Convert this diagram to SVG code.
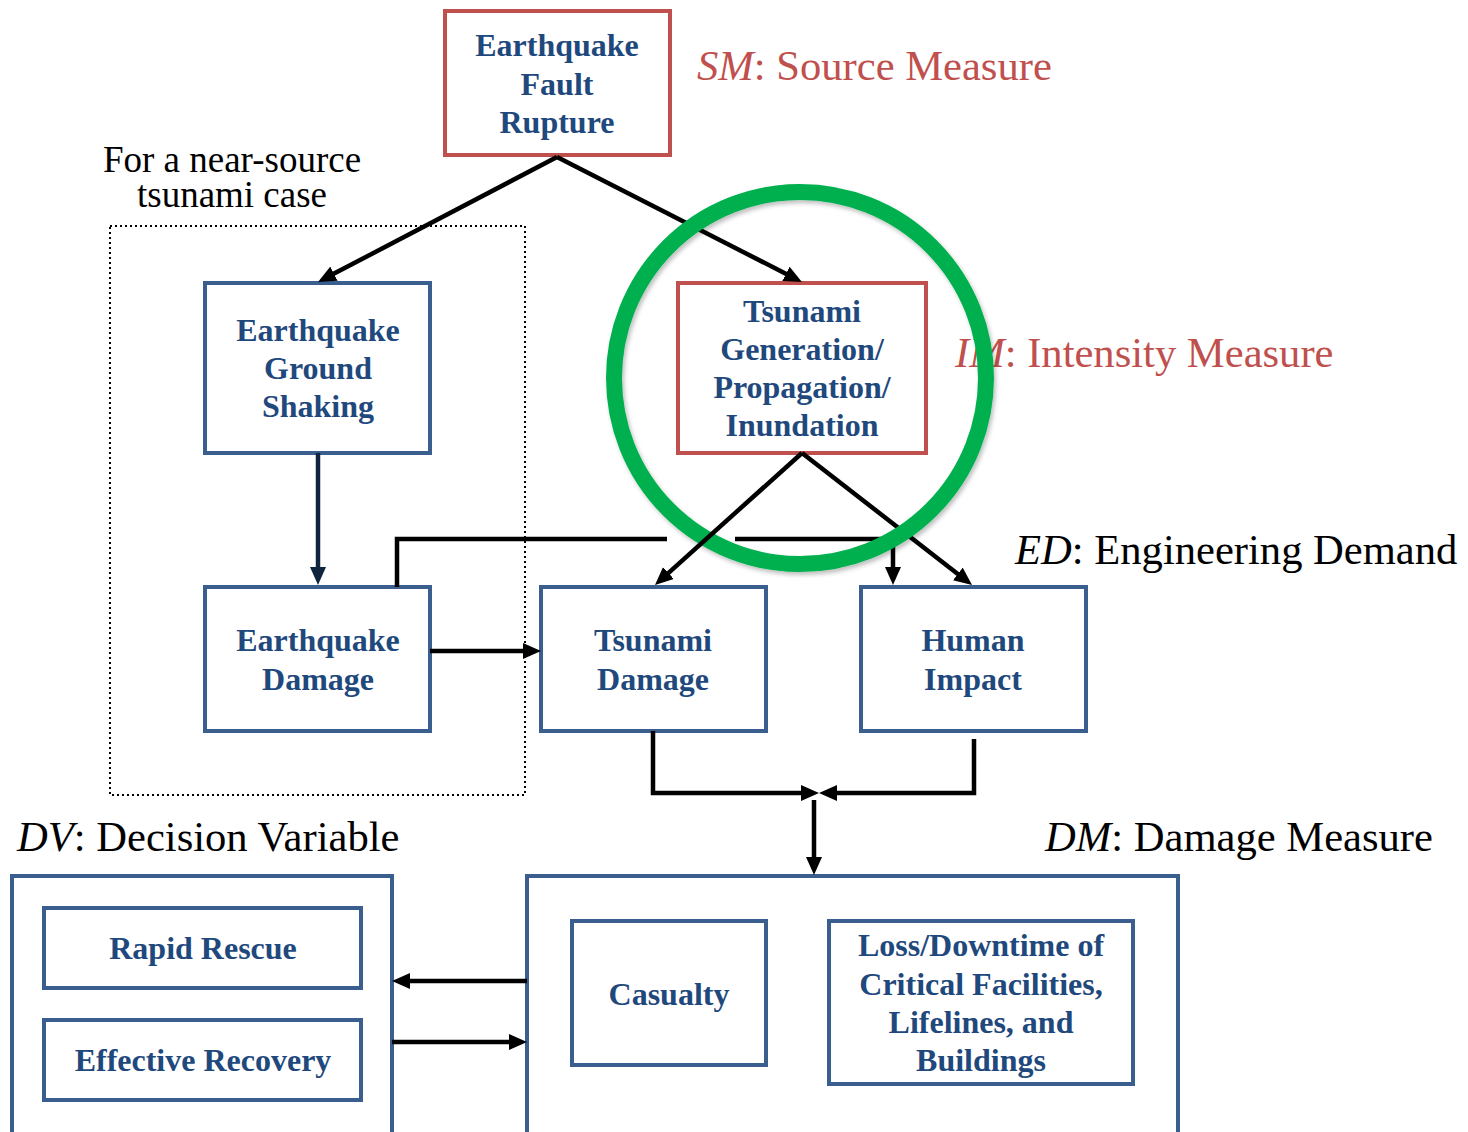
<svg xmlns="http://www.w3.org/2000/svg" width="1468" height="1132" viewBox="0 0 1468 1132">
<style>
.box{fill:#fff;stroke:#3A5F8E;stroke-width:4}
.rbox{fill:#fff;stroke:#C0504D;stroke-width:4}
.bt{font-family:"Liberation Serif","Times New Roman",serif;font-weight:bold;font-size:32px;fill:#1F497D;text-anchor:middle}
.lbl{font-family:"Liberation Serif","Times New Roman",serif;font-size:42.6px;fill:#000}
.note{font-family:"Liberation Serif","Times New Roman",serif;font-size:37px;fill:#000;text-anchor:middle}
.red{fill:#C0504D}
.ln{fill:none;stroke:#000;stroke-width:4.5}
</style>
<defs>
<marker id="ah" markerUnits="userSpaceOnUse" markerWidth="18" markerHeight="16" refX="2" refY="8" orient="auto" viewBox="0 0 18 16">
<path d="M0,0 L18,8 L0,16 z" fill="#000"/>
</marker>
<marker id="ahn" markerUnits="userSpaceOnUse" markerWidth="18" markerHeight="16" refX="2" refY="8" orient="auto" viewBox="0 0 18 16">
<path d="M0,0 L18,8 L0,16 z" fill="#10243F"/>
</marker>
<filter id="sh" x="-10%" y="-10%" width="120%" height="120%">
<feDropShadow dx="2" dy="3" stdDeviation="2" flood-color="#000" flood-opacity="0.25"/>
</filter>
</defs>

<rect x="110" y="226" width="415" height="569" fill="none" stroke="#000" stroke-width="2" stroke-dasharray="2,3"/>

<g id="labels">
<text class="lbl red" x="697" y="80"><tspan font-style="italic">SM</tspan>: Source Measure</text>
<text class="lbl red" x="955" y="367"><tspan font-style="italic">IM</tspan>: Intensity Measure</text>
<text class="lbl" x="1015" y="564"><tspan font-style="italic">ED</tspan>: Engineering Demand</text>
<text class="lbl" x="17" y="851"><tspan font-style="italic">DV</tspan>: Decision Variable</text>
<text class="lbl" x="1045" y="851"><tspan font-style="italic">DM</tspan>: Damage Measure</text>
<text class="note" x="232" y="172">For a near-source</text>
<text class="note" x="232" y="207">tsunami case</text>
</g>

<g id="node-rupture">
<rect class="rbox" x="445" y="11" width="225" height="144"/>
<text class="bt" x="557" y="56">Earthquake</text>
<text class="bt" x="557" y="95">Fault</text>
<text class="bt" x="557" y="133">Rupture</text>
</g>
<g id="node-shaking">
<rect class="box" x="205" y="283" width="225" height="170"/>
<text class="bt" x="318" y="341">Earthquake</text>
<text class="bt" x="318" y="379">Ground</text>
<text class="bt" x="318" y="417">Shaking</text>
</g>
<g id="node-tsunami-gen">
<rect class="rbox" x="678" y="283" width="248" height="170"/>
<text class="bt" x="802" y="322">Tsunami</text>
<text class="bt" x="802" y="360">Generation/</text>
<text class="bt" x="802" y="398">Propagation/</text>
<text class="bt" x="802" y="436">Inundation</text>
</g>
<g id="node-eq-damage">
<rect class="box" x="205" y="587" width="225" height="144"/>
<text class="bt" x="318" y="651">Earthquake</text>
<text class="bt" x="318" y="690">Damage</text>
</g>
<g id="node-ts-damage">
<rect class="box" x="541" y="587" width="225" height="144"/>
<text class="bt" x="653" y="651">Tsunami</text>
<text class="bt" x="653" y="690">Damage</text>
</g>
<g id="node-human">
<rect class="box" x="861" y="587" width="225" height="144"/>
<text class="bt" x="973" y="651">Human</text>
<text class="bt" x="973" y="690">Impact</text>
</g>
<g id="node-dv">
<rect class="box" x="12" y="876" width="380" height="260"/>
</g>
<g id="node-rescue">
<rect class="box" x="44" y="908" width="317" height="80"/>
<text class="bt" x="203" y="959">Rapid Rescue</text>
</g>
<g id="node-recovery">
<rect class="box" x="44" y="1020" width="317" height="80"/>
<text class="bt" x="203" y="1071">Effective Recovery</text>
</g>
<g id="node-dm">
<rect class="box" x="527" y="876" width="651" height="260"/>
</g>
<g id="node-casualty">
<rect class="box" x="572" y="921" width="194" height="144"/>
<text class="bt" x="669" y="1005">Casualty</text>
</g>
<g id="node-loss">
<rect class="box" x="829" y="921" width="304" height="163"/>
<text class="bt" x="981" y="956">Loss/Downtime of</text>
<text class="bt" x="981" y="995">Critical Facilities,</text>
<text class="bt" x="981" y="1033">Lifelines, and</text>
<text class="bt" x="981" y="1071">Buildings</text>
</g>

<g id="connectors-under">
<path class="ln" d="M557,157 L787.7,274.7" marker-end="url(#ah)"/>
<path class="ln" d="M802,453 L959.4,575.2" marker-end="url(#ah)"/>
<path class="ln" d="M397,587 V539 H667"/>
<path class="ln" d="M735,539 H893 V569" marker-end="url(#ah)"/>
</g>

<g id="circle">
<circle cx="800" cy="378" r="186" fill="none" stroke="#00B050" stroke-width="16" filter="url(#sh)"/>
</g>

<g id="connectors">
<path class="ln" d="M557,157 L332.2,274.6" marker-end="url(#ah)"/>
<path class="ln" d="M802,453 L666.9,574.3" marker-end="url(#ah)"/>
<path d="M318,453 V569" fill="none" stroke="#10243F" stroke-width="4.5" marker-end="url(#ahn)"/>
<path class="ln" d="M430,651 H525" marker-end="url(#ah)"/>
<path class="ln" d="M653,731 V793 H803" marker-end="url(#ah)"/>
<path class="ln" d="M974,739 V793 H835" marker-end="url(#ah)"/>
<path class="ln" d="M814,800 V859" marker-end="url(#ah)"/>
<path class="ln" d="M527,981 H408" marker-end="url(#ah)"/>
<path class="ln" d="M392,1042 H511" marker-end="url(#ah)"/>
</g>
</svg>
